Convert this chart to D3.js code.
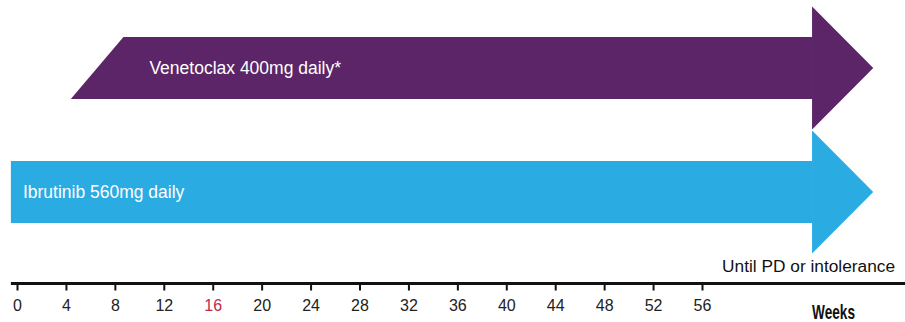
<!DOCTYPE html>
<html>
<head>
<meta charset="utf-8">
<script src="https://cdn.jsdelivr.net/npm/d3@7"></script>
<style>
  html, body { margin: 0; padding: 0; background: #fff; }
  svg { display: block; }
</style>
</head>
<body>
<svg id="chart" width="905" height="322"></svg>
<script>
// Treatment schedule (weeks)
const drugs = ["Venetoclax 400mg daily*", "Ibrutinib 560mg daily"];
const startWeek = [4.4, -0.5];     // where the bar begins at its lower edge
const rampEndWeek = [8.7, -0.5];   // where the bar reaches full height (ramp-up)
const bodyEndWeek = [65, 65];      // end of the bar body
const tipWeek = [70, 70];          // arrow tip
const colors = ["#5b2568", "#2aabe2"];

const tickWeeks = [0, 4, 8, 12, 16, 20, 24, 28, 32, 36, 40, 44, 48, 52, 56];
const highlightWeek = 16;
const axisEndLabel = "Weeks";
const continueLabel = "Until PD or intolerance";

const svg = d3.select("#chart");
const x = d3.scaleLinear().domain([0, 56]).range([17, 702]);

// vertical layout for each bar
const y = d3.scaleBand().domain(drugs).range([6, 254]).paddingInner(0.0).paddingOuter(0);
const bodyHalf = 31;
const headHalf = 61.5;
const font = "'Liberation Sans', Arial, sans-serif";

drugs.forEach((d, i) => {
  const cy = y(d) + y.bandwidth() / 2;
  const g = svg.append("g");
  // body (with slanted left edge for the ramp-up)
  const body = [
    [x(startWeek[i]), cy + bodyHalf],
    [x(rampEndWeek[i]), cy - bodyHalf],
    [x(bodyEndWeek[i]) + 0.5, cy - bodyHalf],
    [x(bodyEndWeek[i]) + 0.5, cy + bodyHalf]
  ];
  g.append("path")
    .attr("d", d3.line()(body) + "Z")
    .attr("fill", colors[i]);
  // arrow head
  const head = [
    [x(bodyEndWeek[i]), cy - headHalf],
    [x(tipWeek[i]), cy],
    [x(bodyEndWeek[i]), cy + headHalf]
  ];
  g.append("path")
    .attr("d", d3.line()(head) + "Z")
    .attr("fill", colors[i]);
  // label
  const lx = i === 0 ? x(rampEndWeek[i]) + 26 : x(startWeek[i]) + 12;
  g.append("text")
    .attr("x", lx)
    .attr("y", cy)
    .attr("dy", "0.35em")
    .attr("fill", "#fff")
    .style("font-family", font)
    .style("font-size", "17.5px")
    .text(d);
});

// continuation note
svg.append("text")
  .attr("x", 895)
  .attr("y", 265.5)
  .attr("dy", "0.35em")
  .attr("text-anchor", "end")
  .attr("fill", "#111")
  .style("font-family", font)
  .style("font-size", "17.3px")
  .text(continueLabel);

// time axis
const axisY = 283.5;
svg.append("line")
  .attr("x1", x(-0.5)).attr("x2", 905)
  .attr("y1", axisY).attr("y2", axisY)
  .attr("stroke", "#111").attr("stroke-width", 3);

const axis = d3.axisBottom(x).tickValues(tickWeeks).tickSize(7).tickPadding(9).tickSizeOuter(0);
const ag = svg.append("g").attr("transform", `translate(0,${axisY})`).call(axis);
ag.select(".domain").remove();
ag.selectAll(".tick line").attr("stroke", "#111").attr("stroke-width", 2);
ag.selectAll(".tick text")
  .attr("fill", w => w === highlightWeek ? "#c0294a" : "#222")
  .style("font-family", font)
  .style("font-size", "16px");

svg.append("text")
  .attr("x", 812)
  .attr("y", 311.5)
  .attr("dy", "0.35em")
  .attr("textLength", 43)
  .attr("lengthAdjust", "spacingAndGlyphs")
  .attr("fill", "#111")
  .style("font-family", font)
  .style("font-weight", "bold")
  .style("font-size", "21px")
  .text(axisEndLabel);
</script>
</body>
</html>
